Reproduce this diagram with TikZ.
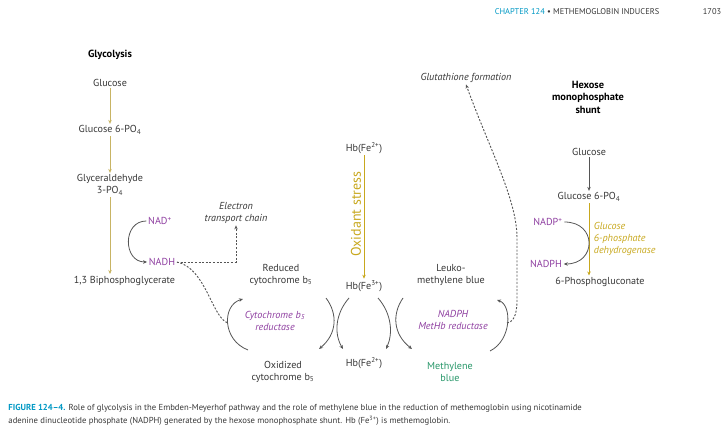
\documentclass[tikz,border=0pt]{standalone}
\usepackage{fontspec}
\setmainfont{PT Sans}
\usetikzlibrary{arrows.meta}

\definecolor{txtgray}{RGB}{55,55,55}
\definecolor{nadpurple}{RGB}{142,62,160}
\definecolor{enzyellow}{RGB}{200,168,30}
\definecolor{paleolive}{RGB}{200,180,100}
\definecolor{mbgreen}{RGB}{38,150,104}
\definecolor{figblue}{RGB}{0,152,196}
\definecolor{arcgray}{RGB}{85,85,85}

\tikzset{every picture/.style={line width=0.75pt}}
\tikzset{
  lbl/.style={font=\fontsize{7.6}{9}\selectfont, text=txtgray, align=center, inner sep=1pt},
  ttl/.style={lbl, font=\fontsize{7.8}{9.4}\selectfont\bfseries, text=black},
  nad/.style={lbl, text=nadpurple},
  enzp/.style={lbl, font=\fontsize{7.6}{9}\selectfont\itshape, text=nadpurple},
  enzy/.style={lbl, font=\fontsize{7.6}{9}\selectfont\itshape, text=enzyellow, align=left},
  mb/.style={lbl, text=mbgreen},
  hdr/.style={font=\fontsize{6.3}{7}\selectfont, text=txtgray, inner sep=0pt},
  capt/.style={font=\fontsize{6.5}{7.5}\selectfont, text=txtgray, anchor=west, inner sep=0pt},
  flow/.style={draw=paleolive, line width=0.6pt, -{Stealth[length=3pt,width=2.6pt]}},
  rxn/.style={draw=arcgray, line width=0.6pt, -{Stealth[length=3pt,width=2.6pt]}},
  dots/.style={draw=arcgray, line width=0.7pt, dash pattern={on 1.5pt off 1.2pt}},
}

\begin{document}
\begin{tikzpicture}[x=0.75pt,y=0.75pt,yscale=-1,xscale=1]
\useasboundingbox (0,0) rectangle (724,434);

% Text Node: running head
\node[hdr] (chap) at (577,12) {\textcolor{figblue}{CHAPTER 124} \textbullet{} METHEMOGLOBIN INDUCERS};
\node[hdr] (page) at (712,12) {1703};

% Text Node: glycolysis column
\node[ttl] (glyc) at (110,55) {Glycolysis};
\node[lbl] (glcL) at (110,83) {Glucose};
\node[lbl] (g6pL) at (110,130) {Glucose 6-PO\textsubscript{4}};
\node[lbl] (gap) at (110,185) {Glyceraldehyde\\3-PO\textsubscript{4}};
\node[lbl, anchor=north west] (bpg) at (72,274) {1,3 Biphosphoglycerate};
\node[nad] (nad) at (160,221) {NAD\textsuperscript{+}};
\node[nad] (nadh) at (162,262) {NADH};
\node[lbl, font=\fontsize{7.6}{9}\selectfont\itshape] (etc) at (236,213) {Electron\\transport chain};

% Text Node: cytochrome b5
\node[lbl] (redcyt) at (281,275) {Reduced\\cytochrome b\textsubscript{5}};
\node[enzp] (cytred) at (275,321) {Cytochrome b\textsubscript{5}\\reductase};
\node[lbl] (oxcyt) at (283,372) {Oxidized\\cytochrome b\textsubscript{5}};

% Text Node: hemoglobin
\node[lbl] (hbtop) at (364,148) {Hb(Fe\textsuperscript{2+})};
\node[lbl] (hb3) at (364,286) {Hb(Fe\textsuperscript{3+})};
\node[lbl] (hb2) at (364,363) {Hb(Fe\textsuperscript{2+})};
\node[lbl, font=\fontsize{10.5}{11}\selectfont, text=enzyellow, rotate=90] (oxst) at (356,214) {Oxidant stress};

% Text Node: methylene blue
\node[lbl, font=\fontsize{7.6}{9}\selectfont\itshape] (glut) at (466,78) {Glutathione formation};
\node[lbl] (leuko) at (451,275) {Leuko-\\methylene blue};
\node[enzp] (mbred) at (453,320) {NADPH\\MetHb reductase};
\node[mb] (mblue) at (450,372) {Methylene\\blue};

% Text Node: hexose monophosphate shunt
\node[ttl] (hex) at (588,97) {Hexose\\monophosphate\\shunt};
\node[lbl] (glcR) at (589,152) {Glucose};
\node[lbl] (g6pR) at (589,197) {Glucose 6-PO\textsubscript{4}};
\node[nad] (nadpR) at (548,222) {NADP\textsuperscript{+}};
\node[nad] (nadphR) at (546,264) {NADPH};
\node[enzy, anchor=west] (g6pd) at (592,239) {Glucose\\6-phosphate\\dehydrogenase};
\node[lbl] (pgl) at (600,282) {6-Phosphogluconate};

% Text Node: legend
\node[capt] (cap1) at (8,408) {\textcolor{figblue}{\bfseries FIGURE 124–4.} Role of glycolysis in the Embden-Meyerhof pathway and the role of methylene blue in the reduction of methemoglobin using nicotinamide};
\node[capt] (cap2) at (8,421) {adenine dinucleotide phosphate (NADPH) generated by the hexose monophosphate shunt. Hb (Fe\textsuperscript{3+}) is methemoglobin.};

%Straight Lines: glycolysis
\draw[flow] (glcL.south) -- (glcL.south |- g6pL.north);
\draw[flow] (g6pL.south) -- (g6pL.south |- gap.north);
\draw[flow] (gap.south) -- (gap.south |- bpg.north);
%Curve Lines: NAD+ to NADH
\draw[rxn] (nad.west) to[out=180,in=180,looseness=1.5] (nadh.west);
%Straight Lines: NADH to electron transport chain
\draw[dots, -{Stealth[length=3pt,width=2.6pt]}] (nadh.east) -- (etc.south |- nadh.east) -- (etc.south);

% cytochrome b5 cycle
\coordinate (cbjoin) at (228,323);
\draw[rxn] (248,350) .. controls (222,340) and (222,305) .. (243,299);
\draw[dots] (nadh.east) .. controls (206,268) and (212,318) .. (cbjoin);
\draw[rxn] (326,298) .. controls (338,314) and (337,334) .. (319,349);
\draw[rxn] (349,298) .. controls (335,314) and (334,334) .. (343,349);

%Straight Lines: oxidant stress
\draw[draw=enzyellow, line width=0.6pt, -{Stealth[length=3pt,width=2.6pt]}] (hbtop.south) -- (hb3.north);

% methylene blue cycle
\draw[rxn] (378,298) .. controls (392,314) and (393,334) .. (386,349);
\draw[rxn] (403,298) .. controls (392,314) and (393,334) .. (412,349);
\coordinate (mbjoin) at (507,323);
\draw[rxn] (490,351) .. controls (512,340) and (512,305) .. (497,300);
\draw[dots, -{Stealth[length=3pt,width=2.6pt]}] (mbjoin) .. controls (513,322) and (517,316) .. (517,300) -- (517,238) .. controls (517,200) and (490,150) .. (glut.south);

%Straight Lines: hexose monophosphate shunt
\draw[rxn] (glcR.south) -- (glcR.south |- g6pR.north);
\draw[draw=enzyellow, line width=0.6pt, -{Stealth[length=3pt,width=2.6pt]}] (g6pR.south) -- (g6pR.south |- pgl.north);
\draw[rxn] (nadpR.east) to[out=0,in=0,looseness=2] (nadphR.east);

\end{tikzpicture}
\end{document}
